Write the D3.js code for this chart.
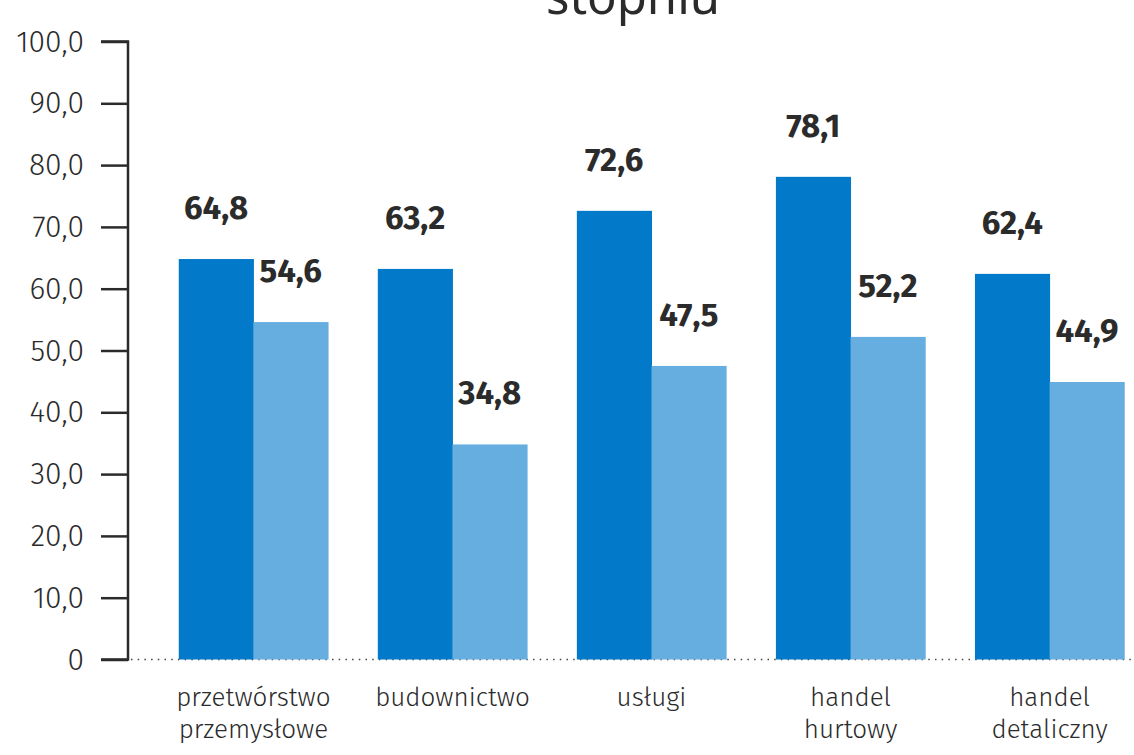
<!DOCTYPE html>
<html>
<head>
<meta charset="utf-8">
<script src="https://cdn.jsdelivr.net/npm/d3@7"></script>
<style>
  body { margin: 0; background: #fff; }
  svg { display: block; font-family: "Fira Sans", Roboto, "Noto Sans", sans-serif; }
</style>
</head>
<body>
<div id="chart"></div>
<script>
// categories and two series (share, %)
const categories = [["przetwórstwo", "przemysłowe"], ["budownictwo"], ["usługi"], ["handel", "hurtowy"], ["handel", "detaliczny"]];
const seriesA = [64.8, 63.2, 72.6, 78.1, 62.4];
const seriesB = [54.6, 34.8, 47.5, 52.2, 44.9];
const yTicks = [0, 10, 20, 30, 40, 50, 60, 70, 80, 90, 100];

const width = 1134, height = 755;
const colors = ["#0279c9", "#66aedf"];
const fmt = v => v === 0 ? "0" : d3.format(".1f")(v).replace(".", ",");

const svg = d3.select("#chart").append("svg")
    .attr("width", width)
    .attr("height", height);

// scales
const x0 = d3.scaleBand()
    .domain(d3.range(categories.length))
    .range([129, 1174])
    .paddingInner(0.25)
    .paddingOuter(0.25);
const x1 = d3.scaleBand()
    .domain([0, 1])
    .range([0, x0.bandwidth()]);
const y = d3.scaleLinear().domain([0, 100]).range([659.5, 41.5]);

// title (only its last line is inside the picture)
svg.append("text")
    .attr("x", 633).attr("y", 14)
    .attr("text-anchor", "middle")
    .attr("font-family", "'Source Sans Pro', 'Noto Sans', sans-serif")
    .attr("font-size", 49)
    .attr("fill", "#2b2b2b")
    .text("stopniu");

// dotted baseline
svg.append("line")
    .attr("x1", 131).attr("x2", width)
    .attr("y1", y(0)).attr("y2", y(0))
    .attr("stroke", "#444")
    .attr("stroke-width", 1.5)
    .attr("stroke-dasharray", "1.5,5.2");

// bars
const data = categories.map((c, i) => ({i: i, vals: [seriesA[i], seriesB[i]]}));
const groups = svg.selectAll("g.grp")
    .data(data)
  .enter().append("g")
    .attr("class", "grp")
    .attr("transform", d => "translate(" + x0(d.i) + ",0)");

groups.selectAll("rect")
    .data(d => d.vals)
  .enter().append("rect")
    .attr("x", (v, j) => x1(j))
    .attr("y", v => y(v))
    .attr("width", x1.bandwidth() + 0.5)
    .attr("height", v => y(0) - y(v))
    .attr("fill", (v, j) => colors[j]);

groups.selectAll("text.val")
    .data(d => d.vals)
  .enter().append("text")
    .attr("class", "val")
    .attr("x", (v, j) => x1(j) + x1.bandwidth() / 2)
    .attr("y", v => y(v) - 40)
    .attr("text-anchor", "middle")
    .attr("font-size", 33)
    .attr("font-weight", 700)
    .attr("fill", "#2b2b2b")
    .text(fmt);

// category labels
groups.append("text")
    .attr("x", x0.bandwidth() / 2)
    .attr("y", 706)
    .attr("text-anchor", "middle")
    .attr("font-size", 26)
    .attr("font-weight", 300)
    .attr("fill", "#2b2b2b")
    .selectAll("tspan")
    .data(d => categories[d.i])
  .enter().append("tspan")
    .attr("x", x0.bandwidth() / 2)
    .attr("dy", (t, k) => k === 0 ? 0 : 32)
    .text(t => t);

// y axis
const yAxis = svg.append("g")
    .attr("transform", "translate(128,0)")
    .call(d3.axisLeft(y).tickValues(yTicks).tickSize(27).tickPadding(17).tickFormat(fmt));
yAxis.select(".domain")
    .attr("d", "M-27," + y(100) + "H0V" + y(0) + "H-27")
    .attr("stroke", "#2b2b2b")
    .attr("stroke-width", 2.5);
yAxis.selectAll(".tick line").attr("stroke", "#2b2b2b").attr("stroke-width", 2.5);
yAxis.selectAll(".tick text")
    .attr("font-size", 30)
    .attr("font-weight", 300)
    .attr("font-family", "'Fira Sans', Roboto, sans-serif")
    .attr("fill", "#2b2b2b");
</script>
</body>
</html>
